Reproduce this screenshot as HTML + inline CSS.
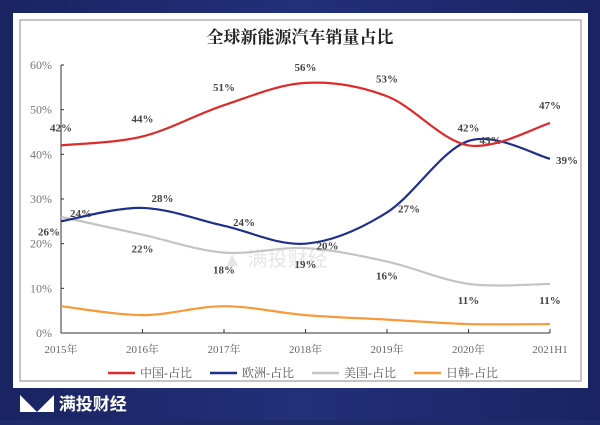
<!DOCTYPE html>
<html><head><meta charset="utf-8"><style>
body{margin:0;width:600px;height:420px;overflow:hidden;background:#1d2b6b;font-family:"Liberation Serif","Noto Serif CJK SC",serif}
</style></head><body>
<svg width="600" height="420">
<defs><linearGradient id="bg" x1="0" x2="1"><stop offset="0" stop-color="#1a2462"/><stop offset="0.5" stop-color="#22307a"/><stop offset="1" stop-color="#1a2462"/></linearGradient></defs>
<rect width="600" height="420" fill="url(#bg)"/>
<rect x="13" y="13" width="575" height="375" fill="#fff"/>
<rect x="20" y="20" width="561" height="361" fill="none" stroke="#888" stroke-width="1"/>
<text x="300" y="43" text-anchor="middle" font-size="17" font-weight="bold" fill="#222">全球新能源汽车销量占比</text>
<text x="275" y="266" text-anchor="middle" font-size="20" fill="#e6e6e6" font-family="Liberation Sans,Noto Sans CJK SC,sans-serif">▲ 满投财经</text>
<g id="axes"></g>
<g id="plot"></g>
<g id="legend"></g>
<text x="20" y="410" font-size="17" font-weight="bold" fill="#fff" font-family="Liberation Sans,Noto Sans CJK SC,sans-serif">◣◢ 满投财经</text>
</svg>
<script>
const categories=["2015年","2016年","2017年","2018年","2019年","2020年","2021H1"];
const yTicks=[0,10,20,30,40,50,60];
const china=[42,44,51,56,53,42,47];
const europe=[25,28,24,20,27,43,39];
const usa=[26,22,18,19,16,11,11];
const japanKorea=[6,4,6,4,3,2,2];
const chinaLabels=["42%","44%","51%","56%","53%","42%","47%"];
const europeLabels=["26%","28%","24%","20%","27%","43%","39%"];
const usaLabels=["24%","22%","18%","19%","16%","11%","11%"];
const NS="http://www.w3.org/2000/svg";
const x0=61,x1=550,y0=333,y1=65;
const X=i=>x0+(x1-x0)*i/(categories.length-1);
const Y=v=>y0-(y0-y1)*v/60;
function el(t,a,p){const e=document.createElementNS(NS,t);for(const k in a)e.setAttribute(k,a[k]);p.appendChild(e);return e;}
const axes=document.getElementById('axes'),plot=document.getElementById('plot'),leg=document.getElementById('legend');
let e=el('line',{x1:x0,y1:y0,x2:x1,y2:y0,stroke:'#333'},axes);

e=el('line',{x1:x0,y1:y0,x2:x0,y2:y1,stroke:'#333'},axes);

yTicks.forEach(v=>{el('line',{x1:x0,y1:Y(v),x2:x0+3,y2:Y(v),stroke:'#333'},axes);
 const t=el('text',{x:x0-9,y:Y(v)+4,'text-anchor':'end','font-size':12,fill:'#777'},axes);t.textContent=v+'%';
 });
categories.forEach((c,i)=>{el('line',{x1:X(i),y1:y0,x2:X(i),y2:y0-4,stroke:'#333'},axes);
 const t=el('text',{x:X(i),y:y0+20,'text-anchor':'middle','font-size':11,fill:'#666'},axes);t.textContent=c;
 });
function path(vals){const p=vals.map((v,i)=>[X(i),Y(v)]);let d='M'+p[0];
 for(let i=0;i<p.length-1;i++){const a=p[i-1]||p[i],b=p[i],c=p[i+1],n=p[i+2]||c;
  d+=` C${b[0]+(c[0]-a[0])/6},${b[1]+(c[1]-a[1])/6} ${c[0]-(n[0]-b[0])/6},${c[1]-(n[1]-b[1])/6} ${c[0]},${c[1]}`;}return d;}
const series=[["japan-korea",japanKorea,"#f79a3a",null],["usa",usa,"#c4c4c4",usaLabels],["europe",europe,"#1f2f8a",europeLabels],["china",china,"#dd2b2b",chinaLabels]];
const off={china:[[0,-14],[0,-14],[0,-14],[0,-12],[0,-14],[0,-14],[0,-14]],
 europe:[[-12,14],[20,-6],[20,0],[22,6],[22,0],[22,3],[17,5]],
 usa:[[20,0],[0,18],[0,21],[0,20],[0,18],[0,20],[0,20]]};
series.forEach(([n,v,c,l])=>{const p=el('path',{d:path(v),fill:'none',stroke:c,'stroke-width':2.2},plot);
 
 if(l)v.forEach((val,i)=>{const o=off[n][i];const t=el('text',{x:X(i)+o[0],y:Y(val)+o[1],'text-anchor':'middle','font-size':11,'font-weight':'bold',fill:'#444'},plot);
  t.textContent=l[i];});});
const legendItems=[["中国-占比","#dd2b2b"],["欧洲-占比","#1f2f8a"],["美国-占比","#c4c4c4"],["日韩-占比","#f79a3a"]];
legendItems.forEach(([t,c],i)=>{const x=108+i*102;
 const g=el('g',{},leg);
 el('line',{x1:x,y1:373,x2:x+27,y2:373,stroke:c,'stroke-width':2.5},g);
 const tx=el('text',{x:x+32,y:377,'font-size':12,fill:'#555'},g);tx.textContent=t;});
</script>
</body></html>
